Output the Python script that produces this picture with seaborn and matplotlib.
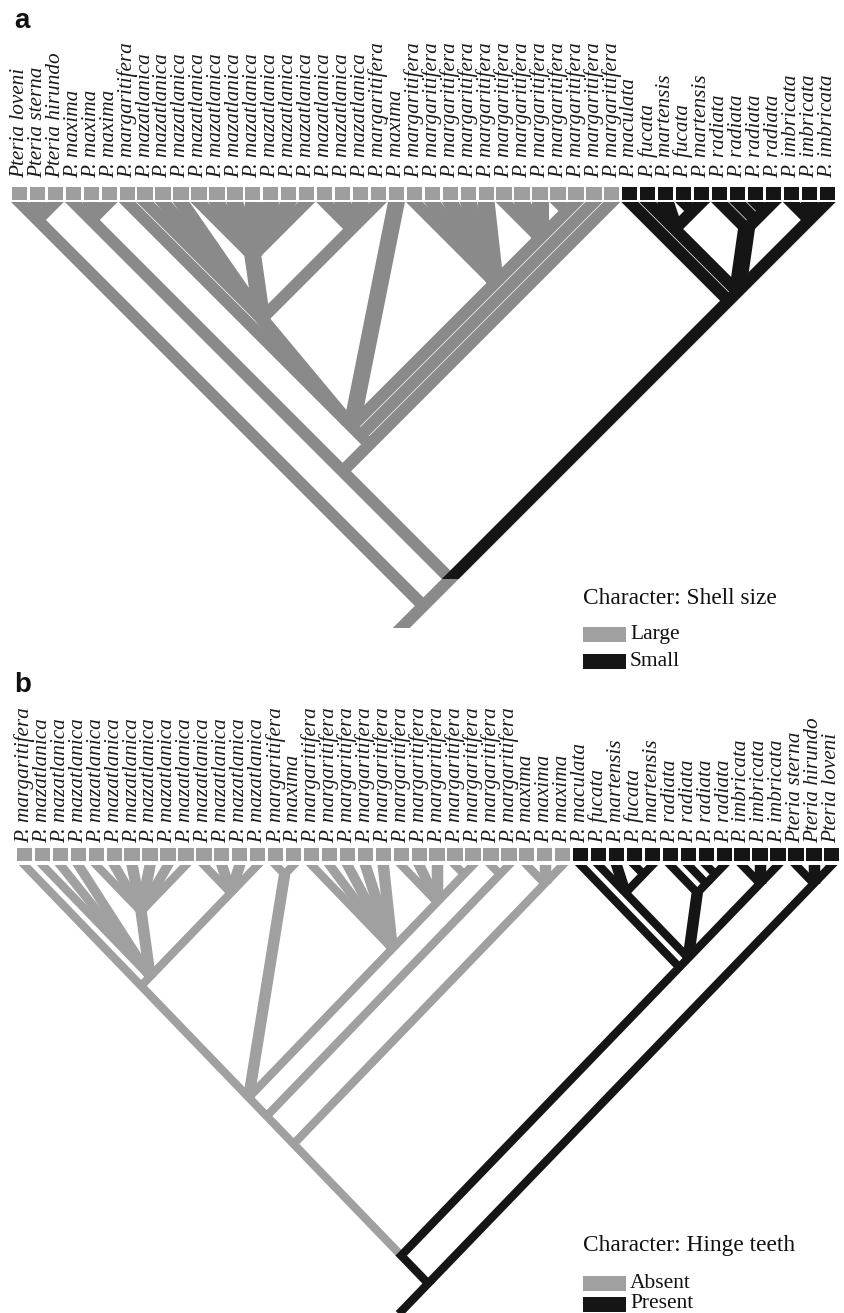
import matplotlib
matplotlib.use("Agg")
import numpy as np
import pandas as pd
import matplotlib.pyplot as plt
from matplotlib.patches import Rectangle
import seaborn as sns

# ---------------- data ----------------
# tip labels, left to right
labels_a = (["Pteria loveni", "Pteria sterna", "Pteria hirundo"]
            + ["P. maxima"] * 3 + ["P. margaritifera"] + ["P. mazatlanica"] * 13
            + ["P. margaritifera", "P. maxima"] + ["P. margaritifera"] * 12
            + ["P. maculata", "P. fucata", "P. martensis", "P. fucata", "P. martensis"]
            + ["P. radiata"] * 4 + ["P. imbricata"] * 3)
labels_b = (["P. margaritifera"] + ["P. mazatlanica"] * 13
            + ["P. margaritifera", "P. maxima"] + ["P. margaritifera"] * 12
            + ["P. maxima"] * 3
            + ["P. maculata", "P. fucata", "P. martensis", "P. fucata", "P. martensis"]
            + ["P. radiata"] * 4 + ["P. imbricata"] * 3
            + ["Pteria sterna", "Pteria hirundo", "Pteria loveni"])

# character state of each tip (0 = first legend entry, 1 = second)
states_a = [0] * 34 + [1] * 12
states_b = [0] * 31 + [1] * 15
state_names_a = ["Large", "Small"]
state_names_b = ["Absent", "Present"]

# topologies (tips are label indices)
pteria_a = (0, 1, 2)
gray_a = ((3, 4, 5),
          (((6, (7, 8, 9, (10, 11, 12, 13, 14, 15, 16), (17, 18, 19, 20)), 21,
             (22, 23, 24, 25, 26, (27, 28, 29, (30, 31)))), 32), 33))
black_a = (34, ((35, 36, (37, 38)), (39, (40, (41, 42))), (43, 44, 45)))
tree_a = (pteria_a, (gray_a, black_a))

left_b = (0, (1, 2, 3, (4, 5, 6, 7, 8, 9), (10, 11, 12, 13)))
right_b = (16, 17, 18, 19, 20, (21, 22, 23, (24, 25)))
gray_b = (((left_b, (14, 15), right_b), (26, 27)), (28, 29, 30))
black_b = (31, ((32, 33, (34, 35)), (36, (37, (38, 39))), (40, 41, 42)))
pteria_b = (43, 44, 45)
tree_b = ((gray_b, black_b), pteria_b)


# ---------------- helpers ----------------
def tips(node):
    if isinstance(node, int):
        return [node]
    return [t for c in node for t in tips(c)]


def fitch(node, states):
    if isinstance(node, int):
        return {states[node]}
    sets = [fitch(c, states) for c in node]
    both = set.intersection(*sets)
    return both if both else set.union(*sets)


def slanted_segments(tree, states, x0, dx, y0, dy, y_end, stub=2.4, ext=25):
    # node sits at the apex of the V spanned by its outermost tips
    def xy(node):
        t = tips(node)
        lo, hi = min(t), max(t)
        return np.array([x0 + dx * (lo + hi) / 2, y0 + dy * (hi - lo) / 2])

    segs = []

    def walk(node, parent_state, parent_xy):
        s = fitch(node, states)
        st = parent_state if parent_state in s else min(s)
        p = xy(node)
        if parent_xy is not None:
            segs.append((p, parent_xy, st))
        if not isinstance(node, int):
            for c in node:
                walk(c, st, p)
        return st

    root_state = walk(tree, None, None)
    r = xy(tree)
    d = xy(tree[-1]) - r
    segs.append((r, r - d / np.hypot(*d) * dx * stub, root_state))

    # each branch is overdrawn a little past both ends and later cut
    # horizontally at the two node heights (y_lo..y_hi)
    rows = []
    for i, (a, b, st) in enumerate(segs):
        u = (b - a) / np.hypot(*(b - a))
        y_lo, y_hi = a[1], min(b[1], y_end)
        for q in (a - u * ext, b + u * ext):
            rows.append((i, q[0], q[1], st, y_lo, y_hi))
    return pd.DataFrame(rows, columns=["seg", "x", "y", "state", "y_lo", "y_hi"])


# ---------------- figure ----------------
sns.set_theme(style="white")
fig = plt.figure(figsize=(8.45, 13.13), dpi=100)
ax = fig.add_axes([0, 0, 1, 1])

GRAY_SQ = "#9e9e9e"
BLACK = "#151515"

panels = [
    dict(tree=tree_a, states=states_a, labels=labels_a, names=state_names_a,
         x0=19.5, dx=17.95, top=202, dy=17.95, bottom=628, width_px=17.0,
         branch_gray="#8a8a8a", sq_top=187, lab_y=178, letter="a", letter_y=28,
         title="Character: Shell size", leg_y=598, leg_step=(36, 27)),
    dict(tree=tree_b, states=states_b, labels=labels_b, names=state_names_b,
         x0=24.5, dx=17.94, top=865, dy=18.6, bottom=1313, width_px=11.5,
         branch_gray="#a0a0a0", sq_top=848, lab_y=843, letter="b", letter_y=692,
         title="Character: Hinge teeth", leg_y=1246, leg_step=(37, 21)),
]

for p in panels:
    df = slanted_segments(p["tree"], p["states"], p["x0"], p["dx"], p["top"],
                          p["dy"], p["bottom"])
    df["state"] = df["state"].map(lambda s: p["names"][s])
    bounds = {(round(r.x, 4), round(r.y, 4)): (r.y_lo, r.y_hi)
              for r in df.groupby("seg").head(1).itertuples()}
    n0 = len(ax.lines)
    sns.lineplot(data=df, x="x", y="y", hue="state", hue_order=p["names"],
                 units="seg", estimator=None, sort=False, legend=False,
                 palette={p["names"][0]: p["branch_gray"], p["names"][1]: BLACK},
                 linewidth=5, ax=ax)
    for ln in ax.lines[n0:]:
        # constant horizontal width, flat horizontal cuts at the nodes
        xd, yd = ln.get_xdata(), ln.get_ydata()
        ddx, ddy = xd[-1] - xd[0], yd[-1] - yd[0]
        sin_t = abs(ddy) / np.hypot(ddx, ddy)
        ln.set_linewidth(p["width_px"] * sin_t * 0.72)
        ln.set_solid_capstyle("butt")
        y_lo, y_hi = bounds[(round(xd[0], 4), round(yd[0], 4))]
        y_lo = max(y_lo, p["top"])
        ln.set_clip_path(Rectangle((0, y_lo), 845, y_hi - y_lo, transform=ax.transData))

    xs = p["x0"] + p["dx"] * np.arange(len(p["labels"]))
    cols = [GRAY_SQ if s == 0 else BLACK for s in p["states"]]
    ax.bar(xs, 12.5, bottom=p["sq_top"], width=15.3, color=cols, linewidth=0)
    for x, lab in zip(xs, p["labels"]):
        ax.text(x, p["lab_y"], lab, rotation=90, ha="center", va="bottom",
                fontsize=15.3, family="Liberation Serif", style="italic", color="#1a1a1a")

    ax.text(14, p["letter_y"], p["letter"], fontsize=20, fontweight="bold",
            family="Liberation Sans", color="#111111", va="baseline")

    ly = p["leg_y"]
    ax.text(583, ly, p["title"], fontsize=16.8, family="Liberation Serif",
            va="center", ha="left", color="#111111")
    first, step = p["leg_step"]
    for k, (nm, c) in enumerate(zip(p["names"], ["#a0a0a0", BLACK])):
        yy = ly + first + step * k
        ax.add_patch(Rectangle((583, yy - 7.5), 43, 15, color=c, lw=0))
        ax.text(630, yy, nm, fontsize=15.5, family="Liberation Serif",
                va="center", ha="left", color="#111111")

ax.set_xlim(0, 845)
ax.set_ylim(1313, 0)
ax.axis("off")
fig.savefig("out.png", dpi=100)
